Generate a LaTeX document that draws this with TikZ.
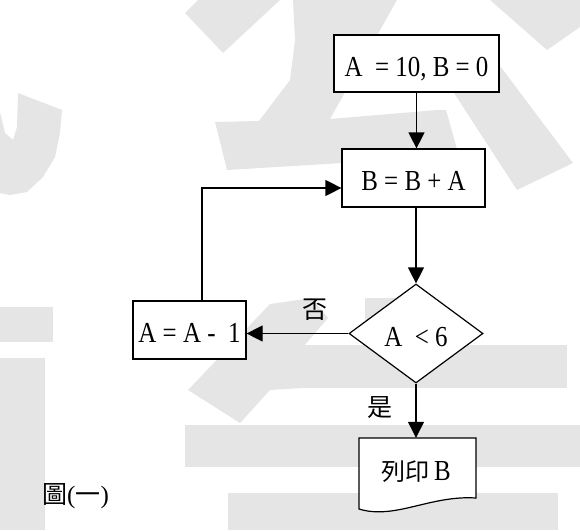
\documentclass[tikz,border=0pt]{standalone}
\usepackage{fontspec}
\setmainfont{Liberation Serif}
\newfontfamily\cjk{Noto Sans CJK TC}
\usepackage{graphicx}
\usetikzlibrary{arrows.meta,shapes.geometric}
\newcommand{\nsq}[1]{\scalebox{0.86}[1]{#1}}
\tikzset{
  wm/.style={fill=black!10, draw=none},
  conn/.style={line width=1.2pt},
  arr/.style={conn, -{Triangle[length=16pt,width=16pt]}},
  box/.style={draw, fill=white, line width=1.2pt, inner sep=0pt,
    text height=25pt, text depth=0pt, font=\fontsize{29}{34}\selectfont},
  decision/.style={box, diamond, minimum width=134pt, minimum height=99pt},
  lab/.style={inner sep=0pt, font=\fontsize{25}{28}\selectfont\cjk},
}
\begin{document}
\begin{tikzpicture}[x=1pt,y=-1pt]
\useasboundingbox (0,0) rectangle (580,530);
% watermark
\fill[wm] (18,93) -- (62,110) -- (60,133) -- (55,157) -- (43,177) -- (27,192) -- (10,195) -- (0,193) -- (0,112) -- (5,133) -- (13,140) -- (17,127) -- cycle;
\fill[wm] (185,13) -- (198,0) -- (280,0) -- (223,53) -- cycle;
\fill[wm] (293,0) -- (397,0) -- (330,119) -- (437,110) -- (446,110) -- (459,156) -- (227,170) -- (215,122) -- (259,121) -- (290,80) -- (295,40) -- cycle;
\fill[wm] (490,0) -- (580,0) -- (580,27) -- (547,50) -- cycle;
\fill[wm] (430,56) -- (482,42) -- (573,163) -- (517,190) -- cycle;
\fill[wm] (0,307) rectangle (53,342);
\fill[wm] (0,358) rectangle (45,530);
\fill[wm] (270,304) -- (312,298) -- (328,318) -- (303,347) -- (303,388) -- (270,390) -- (240,423) -- (188,390) -- cycle;
\fill[wm] (303,345) rectangle (567,388);
\fill[wm] (365,298) rectangle (428,345);
\fill[wm] (185,425) rectangle (580,467);
\fill[wm] (228,493) rectangle (558,530);

% nodes
\node[box, minimum width=165pt, minimum height=57pt] (init) at (416.5,63.5) {\nsq{A\hspace{0.5em}= 10, B = 0}};
\node[box, minimum width=143pt, minimum height=58pt] (add) at (413.5,178) {\nsq{B = B + A}};
\node[decision] (test) at (416,333.5) {\nsq{A\hspace{0.5em}< 6}};
\node[box, minimum width=113pt, minimum height=58pt] (dec) at (189.5,330) {\nsq{A = A -\hspace{0.5em}1}};
\draw[conn, fill=white] (359,438) -- (476,438) -- (476,498) .. controls (430,495) and (395,520) .. (359,509) -- cycle;
\node[inner sep=0pt, minimum width=117pt, minimum height=60pt, text height=25pt, text depth=0pt,
  font=\fontsize{29}{34}\selectfont] (out) at (416,468) {{\cjk\fontsize{24}{28}\selectfont 列印}\,\nsq{B}};
\coordinate (lp) at (202,188);

% connectors
\draw[arr] (init.south) -- (init.south |- add.north);
\draw[arr] (test.north |- add.south) -- (test.north);
\draw[arr] (test.west) -- (test.west -| dec.east);
\draw[arr] (test.south) -- (test.south |- out.north);
\draw[arr] (lp |- dec.north) -- (lp) -- (lp -| add.west);

% labels
\node[lab] (no) at (315,310) {否};
\node[lab] (yes) at (380,408) {是};
\node[lab, anchor=west] (cap) at (42,496) {圖{\rmfamily(}一{\rmfamily)}};
\end{tikzpicture}
\end{document}
